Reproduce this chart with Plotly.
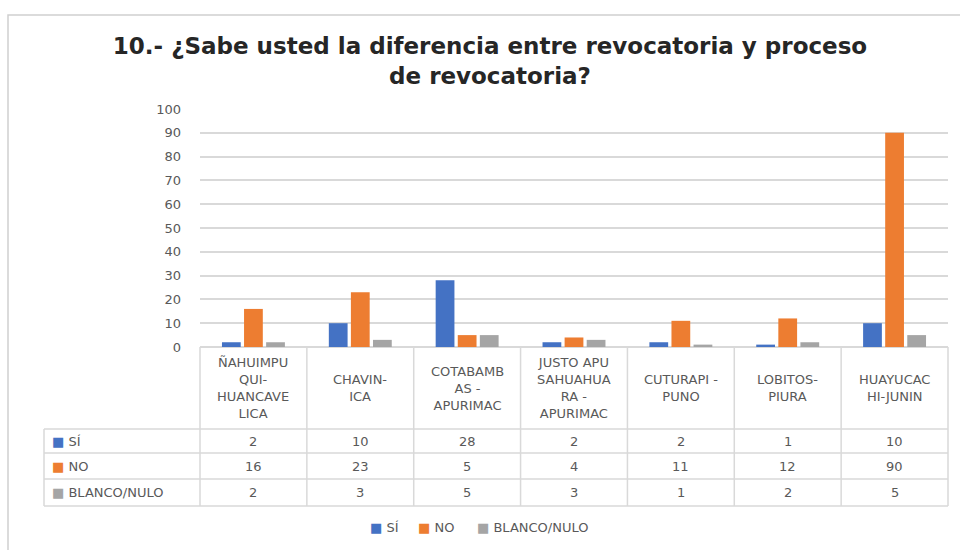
import plotly.graph_objects as go

# Survey results by locality
categories = [
    "ÑAHUIMPUQUI-HUANCAVELICA",
    "CHAVIN-ICA",
    "COTABAMBAS - APURIMAC",
    "JUSTO APUSAHUAHUARA - APURIMAC",
    "CUTURAPI - PUNO",
    "LOBITOS-PIURA",
    "HUAYUCACHI-JUNIN",
]
header_labels = [
    "ÑAHUIMPU<br>QUI-<br>HUANCAVE<br>LICA",
    "CHAVIN-<br>ICA",
    "COTABAMB<br>AS -<br>APURIMAC",
    "JUSTO APU<br>SAHUAHUA<br>RA -<br>APURIMAC",
    "CUTURAPI -<br>PUNO",
    "LOBITOS-<br>PIURA",
    "HUAYUCAC<br>HI-JUNIN",
]
series_names = ["SÍ", "NO", "BLANCO/NULO"]
si_values = [2, 10, 28, 2, 2, 1, 10]
no_values = [16, 23, 5, 4, 11, 12, 90]
blanco_values = [2, 3, 5, 3, 1, 2, 5]
y_ticks = list(range(0, 101, 10))

series_values = [si_values, no_values, blanco_values]
colors = ["#4472C4", "#ED7D31", "#A5A5A5"]

W, H = 960, 550
L, R, T, B = 200, 12, 109, 203
PW, PH = W - L - R, H - T - B


def px_x(px):
    return (px - L) / PW


def px_y(py):
    return (H - B - py) / PH


TEXT = "#595959"
GRID = "#D9D9D9"
FONT = "DejaVu Sans"
FS = 13

fig = go.Figure()
for name, vals, col in zip(series_names, series_values, colors):
    fig.add_trace(go.Bar(name=name, x=categories, y=vals, marker_color=col,
                         marker_line_width=0, showlegend=False))

shapes = []
annotations = []

# data table grid
n = len(categories)
row_lines = [347, 429, 453, 479, 506]
for yy in row_lines[1:]:
    shapes.append(dict(type="line", xref="paper", yref="paper",
                       x0=px_x(44), x1=1, y0=px_y(yy), y1=px_y(yy),
                       line=dict(color=GRID, width=1.5)))
for i in range(n + 1):
    shapes.append(dict(type="line", xref="paper", yref="paper",
                       x0=i / n, x1=i / n, y0=px_y(347), y1=px_y(506),
                       line=dict(color=GRID, width=1.5)))
shapes.append(dict(type="line", xref="paper", yref="paper",
                   x0=px_x(44), x1=px_x(44), y0=px_y(429), y1=px_y(506),
                   line=dict(color=GRID, width=1.5)))

# chart frame
shapes.append(dict(type="rect", xref="paper", yref="paper",
                   x0=px_x(8), x1=px_x(975), y0=px_y(15), y1=px_y(560),
                   line=dict(color="#D0D0D0", width=1.5), layer="below"))

# header cells
for i, lab in enumerate(header_labels):
    annotations.append(dict(xref="x", yref="paper", x=categories[i],
                            y=px_y(388), text=lab, showarrow=False,
                            xanchor="center", yanchor="middle", align="center",
                            font=dict(family=FONT, size=FS, color=TEXT)))

# value rows
row_centers = [441, 466, 492]
for r, (name, vals, col) in enumerate(zip(series_names, series_values, colors)):
    annotations.append(dict(xref="paper", yref="paper", x=px_x(50),
                            y=px_y(row_centers[r]),
                            text=f'<span style="color:{col}">■</span> {name}',
                            showarrow=False, xanchor="left", yanchor="middle",
                            font=dict(family=FONT, size=FS, color=TEXT)))
    for i, v in enumerate(vals):
        annotations.append(dict(xref="x", yref="paper", x=categories[i],
                                y=px_y(row_centers[r]), text=str(v),
                                showarrow=False, xanchor="center",
                                yanchor="middle",
                                font=dict(family=FONT, size=FS, color=TEXT)))

# legend row below the table
legend_x = [368, 416, 475]
for name, col, lx in zip(series_names, colors, legend_x):
    annotations.append(dict(xref="paper", yref="paper", x=px_x(lx),
                            y=px_y(527),
                            text=f'<span style="color:{col}">■</span> {name}',
                            showarrow=False, xanchor="left", yanchor="middle",
                            font=dict(family=FONT, size=FS, color=TEXT)))

fig.update_layout(
    width=W, height=H,
    margin=dict(l=L, r=R, t=T, b=B),
    paper_bgcolor="white", plot_bgcolor="white",
    barmode="group", bargap=0.38, bargroupgap=0.15,
    title=dict(text="10.- ¿Sabe usted la diferencia entre revocatoria y proceso<br>de revocatoria?",
               x=490 / W, xanchor="center", xref="container",
               y=1 - 54 / H, yanchor="middle", yref="container",
               font=dict(family="DejaVu Sans", size=23, color="#262626",
                         weight="bold")),
    xaxis=dict(showticklabels=False, showgrid=False, zeroline=False,
               showline=False, range=[-0.5, n - 0.5]),
    yaxis=dict(range=[0, 100], tickvals=y_ticks, showgrid=True,
               gridcolor=GRID, gridwidth=1.5, zeroline=True, zerolinecolor=GRID,
               zerolinewidth=1.5, ticklabelstandoff=18,
               tickfont=dict(family=FONT, size=FS, color=TEXT)),
    showlegend=False,
    shapes=shapes,
    annotations=annotations,
)

fig.write_html("out.html")
